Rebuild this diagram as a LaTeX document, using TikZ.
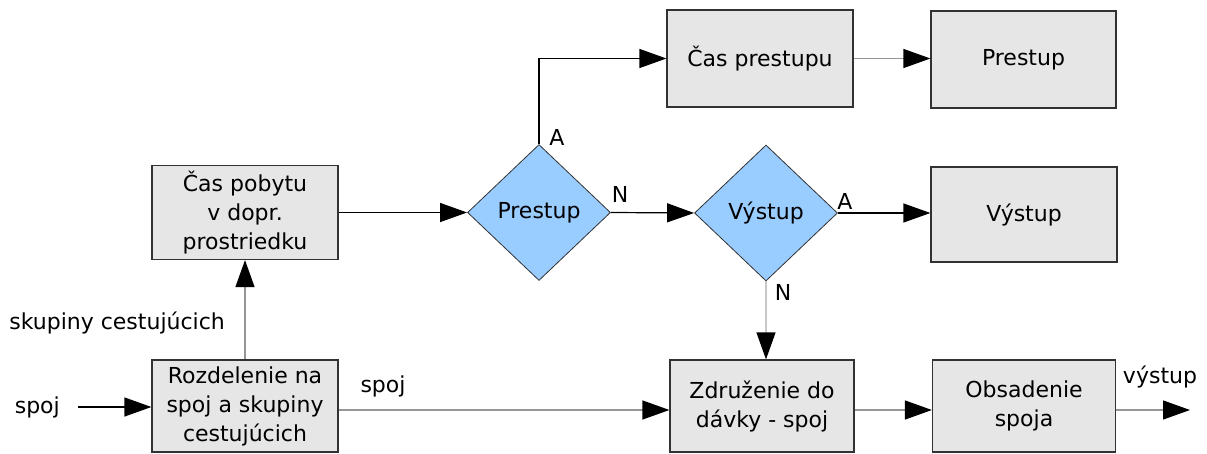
\documentclass[tikz,border=0pt]{standalone}
\usepackage{fontspec}
\setmainfont{DejaVu Sans}
\usetikzlibrary{arrows.meta,shapes.geometric}
\definecolor{boxfill}{RGB}{230,230,230}
\definecolor{boxdraw}{RGB}{50,50,50}
\definecolor{diafill}{RGB}{153,204,255}
\definecolor{lgray}{RGB}{150,150,150}
\definecolor{vlgray}{RGB}{200,200,200}
\begin{document}
\begin{tikzpicture}[x=1pt,y=-1pt,
  every node/.style={font=\fontsize{22}{29}\selectfont},
  procbox/.style={draw=boxdraw,fill=boxfill,line width=1.2pt,minimum width=186pt,minimum height=94pt,inner sep=0pt,align=center},
  decis/.style={diamond,draw=boxdraw,fill=diafill,line width=0.8pt,minimum width=143pt,minimum height=136pt,inner sep=0pt},
  conn/.style={line width=1.2pt,-{Triangle[length=27pt,width=19pt,color=black,fill=black]}},
  lbl/.style={inner sep=0pt}]
\useasboundingbox (0,0) rectangle (1207,454);
% boxes
\node[procbox] (pob) at (245,212.5) {Čas pobytu\\v dopr.\\prostriedku};
\node[procbox,minimum height=92pt] (roz) at (245,406) {Rozdelenie na\\spoj a skupiny\\cestujúcich};
\node[procbox,minimum height=97pt] (casp) at (760,58.5) {Čas prestupu};
\node[procbox,minimum width=185pt,minimum height=97pt] (pbox) at (1023.5,59.5) {Prestup};
\node[procbox,minimum height=95pt] (vbox) at (1024,214.5) {Výstup};
\node[procbox,minimum width=184pt,minimum height=92pt] (zdr) at (762,406) {Združenie do\\dávky - spoj};
\node[procbox,minimum width=183pt,minimum height=92pt] (obs) at (1024,406) {Obsadenie\\spoja};
% diamonds
\node[decis] (pd) at (539,212.5) {Prestup};
\node[decis] (vd) at (766,213) {Výstup};
% free ends
\node[lbl,anchor=east] (spojin) at (60,407) {spoj};
\coordinate (out) at (1190,410);
% connectors
\draw[conn] (spojin.east) ++(18,0) coordinate (sstart) -- (roz.west |- sstart);
\draw[conn,draw=lgray] (roz.north) -- (pob.south);
\draw[conn] (pob.east) -- (pd.west);
\draw[conn] (pd.north) |- (casp.west);
\draw[conn] (pd.east) -- (vd.west);
\draw[conn,draw=lgray] (casp.east) -- (pbox.west |- casp.east);
\draw[conn] (vd.east) -- (vbox.west |- vd.east);
\draw[conn,draw=vlgray] (vd.south) -- (vd.south |- zdr.north);
\draw[conn,draw=lgray] (roz.east |- 0,410) -- (zdr.west |- 0,410);
\draw[conn,draw=lgray] (zdr.east |- 0,410) -- (obs.west |- 0,410);
\draw[conn,draw=lgray] (obs.east |- out) -- (out);
% labels
\node[lbl,anchor=east] at (225,323) {skupiny cestujúcich};
\node[lbl] at (383,386) {spoj};
\node[lbl] at (557,137) {A};
\node[lbl] at (620,194) {N};
\node[lbl] at (845,201) {A};
\node[lbl] at (783,292) {N};
\node[lbl] at (1160,377) {výstup};
\end{tikzpicture}
\end{document}
